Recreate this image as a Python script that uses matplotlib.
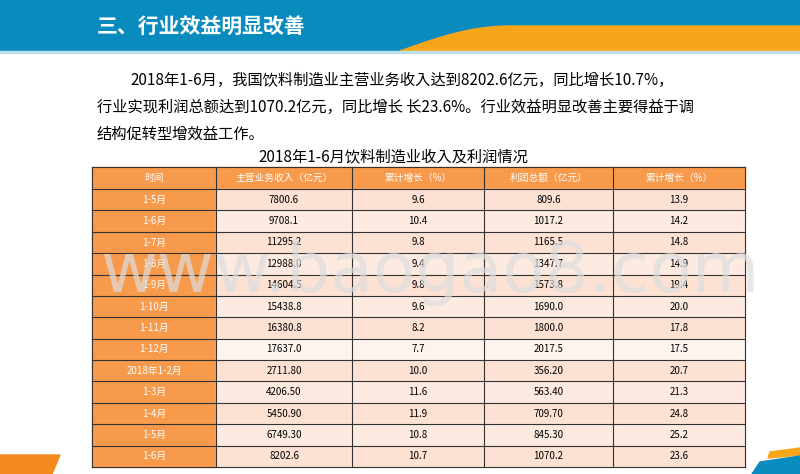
import matplotlib
matplotlib.use("Agg")
import matplotlib.pyplot as plt
from matplotlib.patches import Rectangle, Polygon
import numpy as np

plt.rcParams["font.family"] = ["Noto Sans CJK JP", "DejaVu Sans"]

title = "三、行业效益明显改善"
para = ["2018年1-6月，我国饮料制造业主营业务收入达到8202.6亿元，同比增长10.7%，",
        "行业实现利润总额达到1070.2亿元，同比增长 长23.6%。行业效益明显改善主要得益于调",
        "结构促转型增效益工作。"]
table_title = "2018年1-6月饮料制造业收入及利润情况"
headers = ["时间", "主营业务收入（亿元）", "累计增长（%）", "利润总额（亿元）", "累计增长（%）"]
periods = ["1-5月", "1-6月", "1-7月", "1-8月", "1-9月", "1-10月", "1-11月", "1-12月",
           "2018年1-2月", "1-3月", "1-4月", "1-5月", "1-6月"]
revenue = ["7800.6", "9708.1", "11295.2", "12988.0", "14604.5", "15438.8", "16380.8", "17637.0",
           "2711.80", "4206.50", "5450.90", "6749.30", "8202.6"]
rev_growth = ["9.6", "10.4", "9.8", "9.4", "9.8", "9.6", "8.2", "7.7", "10.0", "11.6", "11.9", "10.8", "10.7"]
profit = ["809.6", "1017.2", "1165.5", "1347.7", "1573.8", "1690.0", "1800.0", "2017.5",
          "356.20", "563.40", "709.70", "845.30", "1070.2"]
prof_growth = ["13.9", "14.2", "14.8", "14.9", "19.4", "20.0", "17.8", "17.5", "20.7", "21.3", "24.8", "25.2", "23.6"]

fig = plt.figure(figsize=(8, 4.74), dpi=100)
ax = fig.add_axes([0, 0, 1, 1])
ax.set_xlim(0, 800); ax.set_ylim(474, 0); ax.axis("off")

ax.add_patch(Rectangle((0, 0), 800, 51, color="#0A8BBE", zorder=1))
xs = np.linspace(400, 800, 120)
ycurve = 51 - (51 - 26) * np.sin(np.clip((xs - 400) / 110, 0, 1) * np.pi / 2)
poly = list(zip(np.concatenate([[400], xs, [800]]), np.concatenate([[51], ycurve, [51]])))
ax.add_patch(Polygon(poly, closed=True, color="#F9A51A", zorder=2))
ax.add_patch(Rectangle((0, 51), 800, 2, color="#BFE0EE", zorder=2))
ax.text(97, 26, title, color="white", fontsize=15, fontweight="bold", va="center", ha="left", zorder=3)

ax.text(130, 80, para[0], fontsize=11, va="center", ha="left")
ax.text(97, 107, para[1], fontsize=11, va="center", ha="left")
ax.text(97, 134, para[2], fontsize=11, va="center", ha="left")
ax.text(393, 157, table_title, fontsize=11, va="center", ha="center")

cols = [92, 216, 352, 484, 613, 745]
y0, hh = 167, 22
ax.add_patch(Rectangle((cols[0], y0), cols[-1] - cols[0], hh, color="#F79A4C", zorder=3))
for j, h in enumerate(headers):
    ax.text((cols[j] + cols[j + 1]) / 2, y0 + hh / 2, h, color="white", fontsize=7,
            ha="center", va="center", zorder=5)
data = list(zip(periods, revenue, rev_growth, profit, prof_growth))
rh = (467 - y0 - hh) / len(data)
for i, row in enumerate(data):
    y = y0 + hh + i * rh
    ax.add_patch(Rectangle((cols[0], y), cols[1] - cols[0], rh, color="#F79A4C", zorder=3))
    bg = "#FEF4EE" if i == 7 else ("#FDE2D4" if i % 2 == 0 else "#FDEBE1")
    ax.add_patch(Rectangle((cols[1], y), cols[-1] - cols[1], rh, color=bg, zorder=3))
    for j, v in enumerate(row):
        ax.text((cols[j] + cols[j + 1]) / 2, y + rh / 2, v, fontsize=7,
                color="white" if j == 0 else "black", ha="center", va="center", zorder=5)
ybot = y0 + hh + len(data) * rh
for k in range(len(data) + 2):
    yy = y0 if k == 0 else y0 + hh + (k - 1) * rh
    ax.plot([cols[0], cols[-1]], [yy, yy], color="#333333", lw=0.8, zorder=4)
for c in cols:
    ax.plot([c, c], [y0, ybot], color="#333333", lw=0.8, zorder=4)

ax.text(430, 272, "www.baogao8.com", fontsize=50, color="#DDDDDD", alpha=0.7,
        ha="center", va="center", zorder=6, family="DejaVu Sans")

ax.add_patch(Polygon([(0, 455), (60, 455), (52, 474), (0, 474)], color="#F28A1E", zorder=2))
ax.add_patch(Polygon([(770, 452), (800, 448), (800, 455), (768, 458)], color="#F9A51A", zorder=2))
ax.add_patch(Polygon([(760, 462), (800, 456), (800, 474), (752, 474)], color="#0A8BBE", zorder=2))

fig.savefig("out.png", dpi=100)
